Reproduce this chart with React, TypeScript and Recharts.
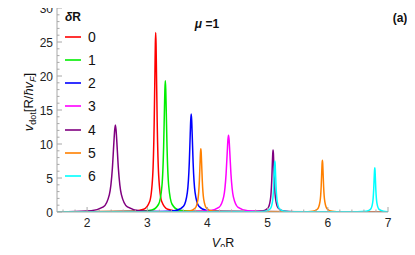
import { LineChart, Line, XAxis, YAxis, Legend } from "recharts";

// curves: [V0R, v_dot]
const dR0: [number, number][] = [
  [1.5, 0.01], [2.74, 0.1], [2.94, 0.4], [3.04, 1.55], [3.09, 5.3], [3.115, 13.2],
  [3.128, 21.0], [3.134, 24.7], [3.14, 26.4], [3.146, 24.7], [3.152, 21.0],
  [3.165, 13.2], [3.19, 5.3], [3.24, 1.55], [3.34, 0.4], [3.54, 0.1], [7, 0.01],
];
const dR1: [number, number][] = [
  [1.5, 0.01], [2.85, 0.08], [3.076, 0.29], [3.188, 1.14], [3.244, 3.86], [3.272, 9.65],
  [3.286, 15.4], [3.293, 18.1], [3.3, 19.3], [3.307, 18.1], [3.314, 15.4],
  [3.328, 9.65], [3.356, 3.86], [3.412, 1.14], [3.524, 0.29], [3.75, 0.08], [7, 0.01],
];
const dR2: [number, number][] = [
  [1.5, 0.01], [3.22, 0.06], [3.474, 0.22], [3.602, 0.85], [3.666, 2.9], [3.698, 7.2],
  [3.714, 11.5], [3.722, 13.5], [3.73, 14.4], [3.738, 13.5], [3.746, 11.5],
  [3.762, 7.2], [3.794, 2.9], [3.858, 0.85], [3.986, 0.22], [4.24, 0.06], [7, 0.01],
];
const dR3: [number, number][] = [
  [1.5, 0.01], [3.71, 0.05], [4.03, 0.17], [4.19, 0.67], [4.27, 2.26], [4.31, 5.65],
  [4.33, 9.0], [4.34, 10.6], [4.35, 11.3], [4.36, 10.6], [4.37, 9.0],
  [4.39, 5.65], [4.43, 2.26], [4.51, 0.67], [4.67, 0.17], [4.99, 0.05], [7, 0.01],
];
const dR4: [number, number][] = [
  [1.5, 0.03], [1.67, 0.05], [2.07, 0.2], [2.27, 0.75], [2.37, 2.56], [2.42, 6.4],
  [2.445, 10.2], [2.458, 12.0], [2.47, 12.8], [2.482, 12.0], [2.495, 10.2],
  [2.52, 6.4], [2.57, 2.56], [2.67, 0.75], [2.87, 0.2], [3.27, 0.05],
  [4.74, 0.04], [4.914, 0.14], [5.002, 0.54], [5.046, 1.82], [5.068, 4.55],
  [5.079, 7.3], [5.085, 8.55], [5.09, 9.1], [5.096, 8.55], [5.101, 7.3],
  [5.112, 4.55], [5.134, 1.82], [5.178, 0.54], [5.266, 0.14], [5.44, 0.04], [7, 0.01],
];
const dR5: [number, number][] = [
  [1.5, 0.01], [3.506, 0.04], [3.698, 0.14], [3.794, 0.55], [3.842, 1.86], [3.866, 4.65],
  [3.878, 7.45], [3.884, 8.75], [3.89, 9.3], [3.896, 8.75], [3.902, 7.45],
  [3.914, 4.65], [3.938, 1.86], [3.986, 0.55], [4.082, 0.14], [4.274, 0.04],
  [5.59, 0.03], [5.75, 0.11], [5.83, 0.45], [5.87, 1.52], [5.89, 3.8], [5.9, 6.1],
  [5.905, 7.15], [5.91, 7.6], [5.915, 7.15], [5.92, 6.1], [5.93, 3.8], [5.95, 1.52],
  [5.99, 0.45], [6.07, 0.11], [6.23, 0.03], [7, 0.01],
];
const dR6: [number, number][] = [
  [1.5, 0.01], [4.8, 0.03], [4.96, 0.11], [5.04, 0.44], [5.08, 1.5], [5.1, 3.75],
  [5.11, 6.0], [5.115, 7.05], [5.12, 7.5], [5.125, 7.05], [5.13, 6.0], [5.14, 3.75],
  [5.16, 1.5], [5.2, 0.44], [5.28, 0.11], [5.44, 0.03],
  [6.49, 0.03], [6.636, 0.1], [6.708, 0.38], [6.744, 1.3], [6.762, 3.25], [6.771, 5.2],
  [6.776, 6.1], [6.78, 6.5], [6.785, 6.1], [6.789, 5.2], [6.798, 3.25], [6.816, 1.3],
  [6.852, 0.38], [6.924, 0.1], [7, 0.05],
];

const names = ["0", "1", "2", "3", "4", "5", "6"];
const colors = ["#ff0000", "#00ee00", "#0000ff", "#ff00ff", "#800080", "#ff8000", "#00ffff"];
const curves = [dR0, dR1, dR2, dR3, dR4, dR5, dR6];

const xLabels = [2, 3, 4, 5, 6, 7];
const yLabels = [0, 5, 10, 15, 20, 25, 30];
const xTicks = [
  1.6, 1.8, 2, 2.2, 2.4, 2.6, 2.8, 3, 3.2, 3.4, 3.6, 3.8, 4, 4.2, 4.4, 4.6, 4.8,
  5, 5.2, 5.4, 5.6, 5.8, 6, 6.2, 6.4, 6.6, 6.8, 7,
];
const yTicks = Array.from({ length: 31 }, (_, i) => i);

const FONT = "'Liberation Sans', Arial, sans-serif";
const FRAME = "#a8a8a8";

function BottomTick({ x, y, payload }: any) {
  const major = xLabels.includes(payload.value);
  return (
    <g>
      <line x1={x} x2={x} y1={y} y2={y - (major ? 5 : 2.5)} stroke={FRAME} />
      {major && (
        <text x={x} y={y + 15} textAnchor="middle" fontSize={12} fill="#222" fontFamily={FONT}>
          {payload.value}
        </text>
      )}
    </g>
  );
}

function TopTick({ x, y, payload }: any) {
  const major = xLabels.includes(payload.value);
  return <line x1={x} x2={x} y1={y} y2={y + (major ? 5 : 2.5)} stroke={FRAME} />;
}

function LeftTick({ x, y, payload }: any) {
  const major = yLabels.includes(payload.value);
  return (
    <g>
      <line x1={x} x2={x + (major ? 5 : 2.5)} y1={y} y2={y} stroke={FRAME} />
      {major && (
        <text x={x - 4} y={y + 4.5} textAnchor="end" fontSize={12} fill="#222" fontFamily={FONT}>
          {payload.value}
        </text>
      )}
    </g>
  );
}

function RightTick({ x, y, payload }: any) {
  const major = yLabels.includes(payload.value);
  return <line x1={x} x2={x - (major ? 5 : 2.5)} y1={y} y2={y} stroke={FRAME} />;
}

function XTitle() {
  return (
    <text x={223} y={247} textAnchor="middle" fontSize={12.5} fill="#111" fontFamily={FONT}>
      <tspan fontStyle="italic">V</tspan>
      <tspan fontSize={9} dy={2.5}>0</tspan>
      <tspan dy={-2.5}>R</tspan>
    </text>
  );
}

function YTitle() {
  return (
    <text transform="rotate(-90)" x={-102} y={33} textAnchor="middle" fontSize={13} fill="#111" fontFamily={FONT}>
      <tspan fontStyle="italic">v</tspan>
      <tspan fontSize={9} dy={3}>dot</tspan>
      <tspan dy={-3}>[R/</tspan>
      <tspan fontStyle="italic">ħv</tspan>
      <tspan fontSize={9} dy={3} fontStyle="italic">F</tspan>
      <tspan dy={-3}>]</tspan>
    </text>
  );
}

function LegendBox({ payload }: any) {
  const items = [...(payload || [])].sort((a: any, b: any) => Number(a.value) - Number(b.value));
  return (
    <div style={{ position: "relative", width: 60, height: 190, fontFamily: FONT, color: "#111" }}>
      <div style={{ position: "absolute", left: 65, top: 10, fontSize: 12, fontWeight: "bold", lineHeight: "14px" }}>
        <i>δ</i>R
      </div>
      {items.map((p: any, i: number) => (
        <div key={p.value} style={{ position: "absolute", left: 65, top: 37.3 + i * 23.05 - 8, height: 16, display: "flex", alignItems: "center" }}>
          <svg width={16} height={4} style={{ display: "block" }}>
            <line x1={0} x2={16} y1={2} y2={2} stroke={p.color} strokeWidth={1.6} />
          </svg>
          <span style={{ marginLeft: 7, fontSize: 14, lineHeight: "16px" }}>{p.value}</span>
        </div>
      ))}
    </div>
  );
}

export default function App() {
  return (
    <div style={{ position: "relative", margin: -8, width: 415, height: 255, background: "#fff", fontFamily: FONT }}>
      <LineChart width={415} height={255} margin={{ top: 8, right: 27, bottom: 13, left: 17 }}>
        <XAxis
          dataKey="x"
          type="number"
          domain={[1.5, 7]}
          ticks={xTicks}
          interval={0}
          allowDataOverflow
          height={30}
          tickSize={0}
          tickMargin={0}
          tickLine={false}
          tick={<BottomTick />}
          axisLine={{ stroke: FRAME }}
          label={<XTitle />}
        />
        <XAxis
          xAxisId="top"
          orientation="top"
          dataKey="x"
          type="number"
          domain={[1.5, 7]}
          ticks={xTicks}
          interval={0}
          allowDataOverflow
          height={0}
          tickSize={0}
          tickMargin={0}
          tickLine={false}
          tick={<TopTick />}
          axisLine={{ stroke: FRAME }}
        />
        <YAxis
          type="number"
          domain={[0, 30]}
          ticks={yTicks}
          interval={0}
          allowDataOverflow
          width={40}
          tickSize={0}
          tickMargin={0}
          tickLine={false}
          tick={<LeftTick />}
          axisLine={{ stroke: FRAME }}
          label={<YTitle />}
        />
        <YAxis
          yAxisId="right"
          orientation="right"
          type="number"
          domain={[0, 30]}
          ticks={yTicks}
          interval={0}
          allowDataOverflow
          width={0}
          tickSize={0}
          tickMargin={0}
          tickLine={false}
          tick={<RightTick />}
          axisLine={{ stroke: FRAME }}
        />
        <Legend
          layout="vertical"
          align="center"
          verticalAlign="middle"
          wrapperStyle={{ position: "absolute", left: 0, top: 0, width: 140, height: 190 }}
          content={<LegendBox />}
        />
        {curves.map((c, i) => (
          <Line
            key={names[i]}
            name={names[i]}
            data={c.map(([x, y]) => ({ x, y }))}
            dataKey="y"
            type="monotone"
            stroke={colors[i]}
            strokeWidth={1.5}
            dot={false}
            activeDot={false}
            isAnimationActive={false}
          />
        ))}
      </LineChart>

      <div style={{ position: "absolute", left: 207, top: 24, transform: "translate(-50%, -50%)", whiteSpace: "nowrap", fontSize: 12, lineHeight: "14px", fontWeight: "bold", color: "#111" }}>
        <i>μ</i> =1
      </div>
      <div style={{ position: "absolute", left: 400, top: 18, transform: "translate(-50%, -50%)", whiteSpace: "nowrap", fontSize: 12, lineHeight: "14px", fontWeight: "bold", color: "#111" }}>
        (a)
      </div>
    </div>
  );
}
